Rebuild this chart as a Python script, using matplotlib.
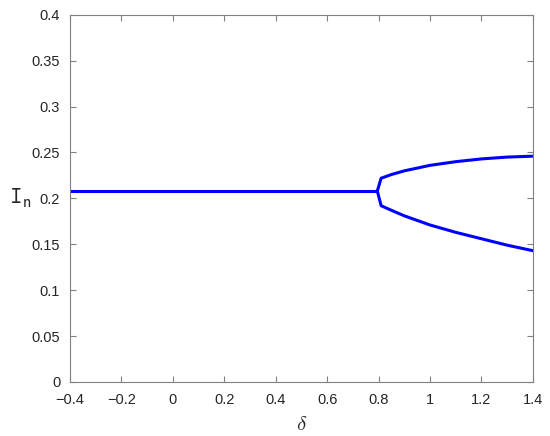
import numpy as np
import matplotlib
matplotlib.use("Agg")
import matplotlib.pyplot as plt

# single branch before the bifurcation
delta_flat = [-0.4, 0.0, 0.4, 0.795]
In_flat = [0.208, 0.208, 0.208, 0.208]

# two branches after it
delta_branch = [0.795, 0.81, 0.85, 0.9, 1.0, 1.1, 1.2, 1.3, 1.4]
In_upper = [0.208, 0.222, 0.226, 0.230, 0.236, 0.240, 0.243, 0.245, 0.246]
In_lower = [0.208, 0.192, 0.187, 0.181, 0.171, 0.163, 0.156, 0.149, 0.143]

xticks = [-0.4, -0.2, 0, 0.2, 0.4, 0.6, 0.8, 1, 1.2, 1.4]
yticks = [0, 0.05, 0.1, 0.15, 0.2, 0.25, 0.3, 0.35, 0.4]

plt.rcParams["font.family"] = ["Liberation Sans", "DejaVu Sans"]
plt.rcParams["mathtext.fontset"] = "cm"

fig = plt.figure(figsize=(5.5, 4.36), dpi=100)
ax = fig.add_axes([0.127, 0.124, 0.842, 0.842])

blue = "#0000ff"
ax.plot(delta_flat, In_flat, color=blue, lw=2.2)
ax.plot(delta_branch, In_upper, color=blue, lw=2.2)
ax.plot(delta_branch, In_lower, color=blue, lw=2.2)

ax.set_xlim(-0.4, 1.4)
ax.set_ylim(0, 0.4)
ax.set_xticks(xticks)
ax.set_xticklabels([f"{t:g}".replace("-", "\u2212") for t in xticks])
ax.set_yticks(yticks)
ax.set_yticklabels([f"{t:g}" for t in yticks])

for s in ax.spines.values():
    s.set_color("#808080")
    s.set_linewidth(0.8)
ax.tick_params(direction="in", length=4, width=0.8, color="#808080",
               labelcolor="#262626", labelsize=10.5, top=True, right=True)
ax.tick_params(axis="x", pad=8)
ax.tick_params(axis="y", pad=7)

ax.set_xlabel(r"$\delta$", fontsize=15, color="#262626", labelpad=6)
ax.set_ylabel(r"$\mathtt{I}_{\mathsf{n}}$", fontsize=17, color="#262626",
              rotation=0, ha="center", va="center")
ax.yaxis.set_label_coords(-0.108, 0.50)

fig.savefig("out.png", dpi=100)
